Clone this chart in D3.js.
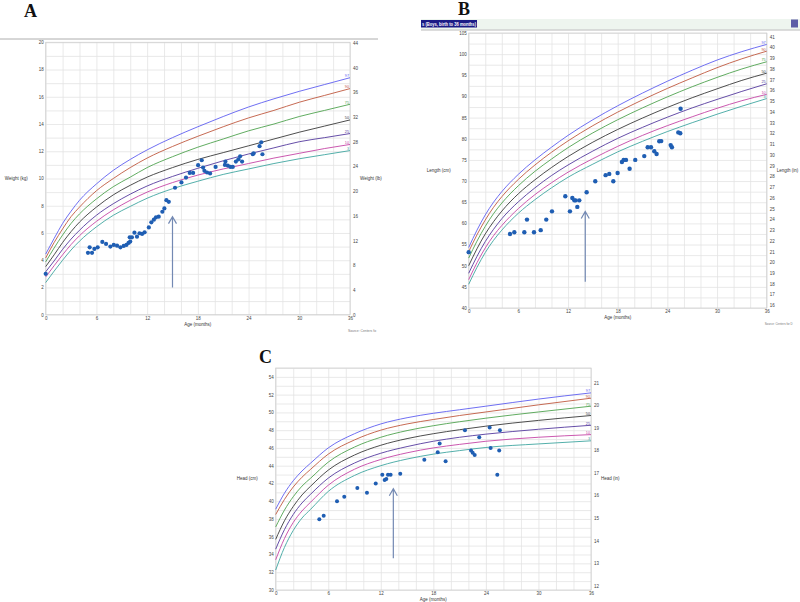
<!DOCTYPE html>
<html>
<head>
<meta charset="utf-8">
<title>Growth charts</title>
<script src="https://d3js.org/d3.v7.min.js"></script>
<style>
  body { margin: 0; background: #fff; }
  svg { display: block; font-family: Arial, "Liberation Sans", sans-serif; }
</style>
</head>
<body>
<script>
// percentile names and colours (top to bottom)
var pctNames = ["97", "90", "75", "50", "25", "10", "3"];
var pctColors = ["#5f5ff0", "#c0593f", "#4fa34f", "#3a3a3a", "#553a9e", "#c545a6", "#3fa6a0"];

// A - weight (kg)
var weightAges = [0, 1, 2, 3, 4, 6, 8, 10, 12, 15, 18, 21, 24, 27, 30, 33, 36];
var weight97 = [4.45, 5.6, 6.7, 7.6, 8.4, 9.6, 10.6, 11.4, 12.1, 13.0, 13.8, 14.55, 15.25, 15.85, 16.4, 16.9, 17.4];
var weight90 = [4.17, 5.3, 6.3, 7.2, 7.9, 9.1, 10.0, 10.8, 11.5, 12.35, 13.1, 13.8, 14.45, 15.0, 15.6, 16.1, 16.6];
var weight75 = [3.88, 4.9, 5.85, 6.7, 7.4, 8.5, 9.4, 10.1, 10.8, 11.6, 12.3, 12.9, 13.5, 14.0, 14.55, 15.0, 15.45];
var weight50 = [3.53, 4.4, 5.3, 6.1, 6.8, 7.9, 8.8, 9.5, 10.1, 10.8, 11.4, 11.9, 12.4, 12.9, 13.4, 13.85, 14.3];
var weight25 = [3.15, 3.95, 4.8, 5.55, 6.2, 7.3, 8.15, 8.85, 9.45, 10.15, 10.75, 11.3, 11.8, 12.25, 12.7, 13.0, 13.3];
var weight10 = [2.77, 3.6, 4.4, 5.15, 5.8, 6.85, 7.7, 8.4, 9.0, 9.7, 10.25, 10.7, 11.1, 11.5, 11.85, 12.2, 12.5];
var weight3 = [2.36, 3.2, 4.0, 4.75, 5.4, 6.45, 7.3, 7.95, 8.55, 9.25, 9.8, 10.3, 10.7, 11.1, 11.45, 11.75, 12.05];

var patientWeightAge = [0, 5.0, 5.48, 5.2, 5.76, 6.15, 6.7, 7.14, 7.65, 8.05, 8.44, 8.84, 9.23, 9.55, 9.8, 10.0, 9.94, 10.2, 10.5, 10.8, 11.1, 11.4, 11.7, 12.2, 12.5, 12.8, 13.05, 13.37, 13.8, 14.04, 14.28, 14.56, 15.3, 16.06, 16.6, 17.04, 17.44, 18.03, 18.46, 18.62, 18.78, 19.09, 19.45, 20.1, 21.2, 21.26, 21.54, 21.85, 22.13, 22.5, 22.8, 23.0, 23.23, 24.5, 24.6, 25.3, 25.5, 25.64];
var patientWeightKg = [3.0, 4.54, 4.54, 4.95, 4.83, 4.95, 5.34, 5.2, 5.0, 5.12, 5.07, 4.95, 5.05, 5.12, 5.27, 5.37, 5.68, 5.68, 6.02, 5.73, 5.98, 5.93, 6.05, 6.41, 6.78, 6.98, 7.15, 7.2, 7.56, 7.8, 8.41, 8.29, 9.32, 9.71, 10.07, 10.41, 10.41, 10.98, 11.34, 10.8, 10.56, 10.44, 10.37, 10.85, 11.0, 11.24, 10.95, 10.85, 10.85, 11.24, 11.41, 11.63, 11.24, 11.78, 11.85, 12.37, 12.66, 11.78];

// B - length (cm)
var lengthAges = [0, 1, 2, 3, 4, 6, 8, 10, 12, 15, 18, 21, 24, 27, 30, 33, 36];
var length97 = [54.3, 58.4, 62.0, 65.0, 67.5, 71.6, 75.0, 78.0, 80.8, 84.5, 87.8, 90.8, 93.6, 96.2, 98.6, 100.6, 102.3];
var length90 = [53.3, 57.3, 60.8, 63.8, 66.3, 70.4, 73.8, 76.8, 79.5, 83.1, 86.3, 89.2, 91.9, 94.4, 96.8, 98.9, 100.7];
var length75 = [51.8, 55.8, 59.3, 62.3, 64.8, 68.9, 72.3, 75.2, 77.9, 81.4, 84.5, 87.3, 89.9, 92.3, 94.5, 96.5, 98.2];
var length50 = [50.0, 54.0, 57.5, 60.4, 62.9, 67.0, 70.3, 73.2, 75.8, 79.2, 82.2, 84.9, 87.4, 89.7, 91.8, 93.8, 95.5];
var length25 = [48.2, 52.2, 55.7, 58.6, 61.1, 65.1, 68.4, 71.3, 73.8, 77.1, 80.1, 82.7, 85.1, 87.3, 89.3, 91.2, 93.0];
var length10 = [46.7, 50.7, 54.2, 57.1, 59.5, 63.5, 66.8, 69.6, 72.1, 75.3, 78.2, 80.8, 83.1, 85.2, 87.2, 89.0, 90.5];
var length3 = [45.6, 49.6, 53.1, 56.0, 58.4, 62.4, 65.6, 68.4, 70.9, 74.0, 76.9, 79.4, 81.7, 83.8, 85.8, 87.7, 89.5];

var patientLengthAge = [0, 4.99, 5.51, 6.72, 7.04, 7.89, 8.7, 9.37, 10.06, 11.67, 12.23, 12.52, 12.76, 12.92, 13.12, 13.36, 14.25, 15.29, 16.54, 16.98, 17.47, 17.99, 18.51, 18.72, 19.0, 19.44, 20.12, 21.21, 21.62, 22.02, 22.42, 22.7, 23.02, 23.26, 24.4, 24.55, 25.32, 25.56, 25.6];
var patientLengthCm = [53.2, 57.5, 57.9, 57.9, 60.9, 57.9, 58.4, 60.9, 62.85, 66.4, 62.85, 66.0, 65.45, 65.45, 63.9, 65.45, 67.35, 69.95, 71.4, 71.7, 69.95, 71.9, 74.5, 75.0, 75.0, 72.9, 75.0, 75.9, 78.0, 78.0, 77.05, 76.4, 79.4, 79.45, 78.5, 78.0, 81.5, 81.3, 87.1];

// C - head circumference (cm)
var headAges = [0, 1, 2, 3, 4, 6, 9, 12, 15, 18, 21, 24, 30, 36];
var head97 = [39.1, 40.9, 42.3, 43.4, 44.3, 46.0, 47.6, 48.7, 49.4, 49.9, 50.3, 50.7, 51.5, 52.2];
var head90 = [38.5, 40.2, 41.6, 42.7, 43.6, 45.3, 46.9, 48.0, 48.7, 49.2, 49.65, 50.05, 50.85, 51.6];
var head75 = [37.1, 39.0, 40.5, 41.7, 42.6, 44.4, 46.1, 47.2, 47.95, 48.5, 48.95, 49.35, 50.05, 50.7];
var head50 = [35.7, 37.8, 39.4, 40.7, 41.7, 43.5, 45.2, 46.3, 47.05, 47.6, 48.05, 48.45, 49.1, 49.65];
var head25 = [34.6, 36.8, 38.5, 39.8, 40.8, 42.6, 44.3, 45.4, 46.15, 46.75, 47.2, 47.55, 48.1, 48.55];
var head10 = [33.4, 35.8, 37.6, 38.9, 39.9, 41.8, 43.6, 44.7, 45.45, 46.0, 46.4, 46.75, 47.2, 47.5];
var head3 = [32.25, 34.8, 36.7, 38.1, 39.1, 41.1, 42.9, 44.0, 44.75, 45.3, 45.7, 46.05, 46.45, 46.8];

var patientHeadAge = [4.98, 5.48, 7.0, 7.83, 9.32, 10.42, 11.42, 12.17, 12.44, 12.63, 12.82, 13.12, 14.22, 16.97, 18.5, 18.72, 19.4, 21.61, 22.3, 22.49, 22.72, 23.24, 24.43, 24.54, 25.6, 25.52, 25.3];
var patientHeadCm = [37.97, 38.37, 40.0, 40.5, 41.5, 40.96, 41.98, 42.99, 42.4, 42.5, 42.99, 42.99, 43.1, 44.68, 45.5, 46.5, 44.5, 48.0, 45.7, 45.47, 45.2, 47.2, 48.3, 46.0, 48.0, 45.7, 42.99];

var svg = d3.select("body").append("svg")
    .attr("width", 800)
    .attr("height", 602);

function drawChart(c) {
    var g = svg.append("g");
    var x = d3.scaleLinear().domain([0, 36]).range([c.left, c.right]);
    var y = d3.scaleLinear().domain(c.yDomain).range([c.bottom, c.top]);
    var yR = d3.scaleLinear().domain(c.rightDomain).range([c.bottom, c.top]);
    var w = c.right - c.left, h = c.bottom - c.top;

    // grid
    g.append("g")
        .attr("transform", "translate(0," + c.bottom + ")")
        .call(d3.axisBottom(x).tickValues(d3.range(0, 37, 2)).tickSize(-h).tickFormat(""))
        .call(function(s) { s.select(".domain").remove(); s.selectAll("line").attr("stroke", "#e3e3e3").attr("stroke-width", 0.8); });
    g.append("g")
        .attr("transform", "translate(" + c.left + ",0)")
        .call(d3.axisLeft(y).tickValues(d3.range(c.yDomain[0], c.yDomain[1] + 0.01, c.gridStep)).tickSize(-w).tickFormat(""))
        .call(function(s) { s.select(".domain").remove(); s.selectAll("line").attr("stroke", "#e3e3e3").attr("stroke-width", 0.8); });

    g.append("rect")
        .attr("x", c.left).attr("y", c.top)
        .attr("width", w).attr("height", h)
        .attr("fill", "none").attr("stroke", "#cfcfcf").attr("stroke-width", 0.8);

    // tick labels
    var lab = function(s) {
        s.select(".domain").remove();
        s.selectAll("text").attr("font-size", 4.5).attr("fill", "#444");
    };
    g.append("g")
        .attr("transform", "translate(0," + c.bottom + ")")
        .call(d3.axisBottom(x).tickValues(d3.range(0, 37, 6)).tickSize(0).tickPadding(2))
        .call(lab);
    g.append("g")
        .attr("transform", "translate(" + c.left + ",0)")
        .call(d3.axisLeft(y).tickValues(c.yTicks).tickSize(0).tickPadding(2))
        .call(lab);
    g.append("g")
        .attr("transform", "translate(" + c.right + ",0)")
        .call(d3.axisRight(yR).tickValues(c.rightTicks).tickSize(0).tickPadding(3))
        .call(lab);

    // percentile curves
    var line = d3.line()
        .x(function(d, j) { return x(c.ages[j]); })
        .y(function(d) { return y(d); })
        .curve(d3.curveMonotoneX);
    c.curves.forEach(function(vals, i) {
        g.append("path")
            .attr("d", line(vals))
            .attr("fill", "none")
            .attr("stroke", pctColors[i])
            .attr("stroke-width", 0.9);
        g.append("text")
            .attr("x", x(36) - 1)
            .attr("y", y(vals[vals.length - 1]) - 0.6)
            .attr("text-anchor", "end")
            .attr("font-size", 3.8)
            .attr("fill", pctColors[i])
            .text(pctNames[i]);
    });

    // patient points
    g.selectAll("circle.pt")
        .data(c.pointAges)
        .enter()
        .append("circle")
        .attr("class", "pt")
        .attr("cx", function(d) { return x(d); })
        .attr("cy", function(d, i) { return y(c.pointVals[i]); })
        .attr("r", c.r)
        .attr("fill", "#1f5eb3");

    // arrow
    var ax = x(c.arrow[0]), y1 = y(c.arrow[1]), y2 = y(c.arrow[2]);
    g.append("path")
        .attr("d", "M" + ax + "," + y1 + "L" + ax + "," + y2 +
              "M" + (ax - 4) + "," + (y2 + 7) + "L" + ax + "," + y2 + "L" + (ax + 4) + "," + (y2 + 7))
        .attr("fill", "none")
        .attr("stroke", "#7389b3")
        .attr("stroke-width", 1.2);

    // axis titles
    g.append("text").attr("x", c.left - 18).attr("y", (c.top + c.bottom) / 2 + 1)
        .attr("text-anchor", "end").attr("font-size", 4.5).attr("fill", "#333").text(c.yLabel);
    g.append("text").attr("x", c.right + 10).attr("y", (c.top + c.bottom) / 2 + 1)
        .attr("font-size", 4.5).attr("fill", "#333").text(c.rightLabel);
    g.append("text").attr("x", (c.left + c.right) / 2).attr("y", c.bottom + 11)
        .attr("text-anchor", "middle").attr("font-size", 4.5).attr("fill", "#333").text("Age (months)");
    if (c.source) {
        g.append("text").attr("x", c.right - 2).attr("y", c.bottom + 17)
            .attr("font-size", 3.6).attr("fill", "#777")
            .attr("textLength", c.sourceWidth).attr("lengthAdjust", "spacingAndGlyphs")
            .text(c.source);
    }
}

// A
svg.append("line").attr("x1", 0).attr("x2", 378).attr("y1", 39).attr("y2", 39)
    .attr("stroke", "#9a9a9a").attr("stroke-width", 0.8);
drawChart({
    left: 45.7, right: 350, top: 42.3, bottom: 314.7,
    yDomain: [0, 20], gridStep: 1, yTicks: d3.range(0, 21, 2),
    rightDomain: [0, 20 * 2.20462], rightTicks: d3.range(0, 45, 4),
    ages: weightAges,
    curves: [weight97, weight90, weight75, weight50, weight25, weight10, weight3],
    pointAges: patientWeightAge, pointVals: patientWeightKg, r: 2.1,
    arrow: [15.0, 2.0, 7.2],
    yLabel: "Weight (kg)", rightLabel: "Weight (lb)",
    source: "Source: Centers fo", sourceWidth: 28
});

// B header bar
svg.append("rect").attr("x", 421).attr("y", 19).attr("width", 379).attr("height", 10.5).attr("fill", "#eef5ef");
svg.append("line").attr("x1", 421).attr("x2", 800).attr("y1", 30).attr("y2", 30).attr("stroke", "#a8a8a8").attr("stroke-width", 0.8);
svg.append("rect").attr("x", 421).attr("y", 20).attr("width", 56).attr("height", 7.5).attr("fill", "#1b1b86");
svg.append("text").attr("x", 422).attr("y", 26).attr("font-size", 5.6).attr("font-weight", "bold")
    .attr("fill", "#ffffff")
    .attr("textLength", 54).attr("lengthAdjust", "spacingAndGlyphs")
    .text("s (Boys, birth to 36 months)");
svg.append("rect").attr("x", 791).attr("y", 19.5).attr("width", 7).attr("height", 8).attr("fill", "#5c5ca6");

drawChart({
    left: 468.7, right: 766.7, top: 33, bottom: 308,
    yDomain: [40, 105], gridStep: 2.5, yTicks: d3.range(40, 106, 5),
    rightDomain: [40 / 2.54, 105 / 2.54], rightTicks: d3.range(16, 42, 1),
    ages: lengthAges,
    curves: [length97, length90, length75, length50, length25, length10, length3],
    pointAges: patientLengthAge, pointVals: patientLengthCm, r: 2.2,
    arrow: [14.08, 46.2, 62.8],
    yLabel: "Length (cm)", rightLabel: "Length (in)",
    source: "Source: Centers for D", sourceWidth: 28
});

drawChart({
    left: 275.7, right: 591, top: 368, bottom: 590,
    yDomain: [30, 55], gridStep: 1, yTicks: d3.range(30, 55, 2),
    rightDomain: [30 / 2.54, 55 / 2.54], rightTicks: d3.range(12, 22, 1),
    ages: headAges,
    curves: [head97, head90, head75, head50, head25, head10, head3],
    pointAges: patientHeadAge, pointVals: patientHeadCm, r: 2.0,
    arrow: [13.43, 33.57, 41.4],
    yLabel: "Head (cm)", rightLabel: "Head (in)", source: null
});

// panel letters
[["A", 24, 17], ["B", 458, 15], ["C", 259, 363]].forEach(function(p) {
    svg.append("text").attr("x", p[1]).attr("y", p[2])
        .attr("font-family", "'Liberation Serif', 'DejaVu Serif', serif")
        .attr("font-weight", "bold").attr("font-size", 18).attr("fill", "#111")
        .text(p[0]);
});
</script>
</body>
</html>
